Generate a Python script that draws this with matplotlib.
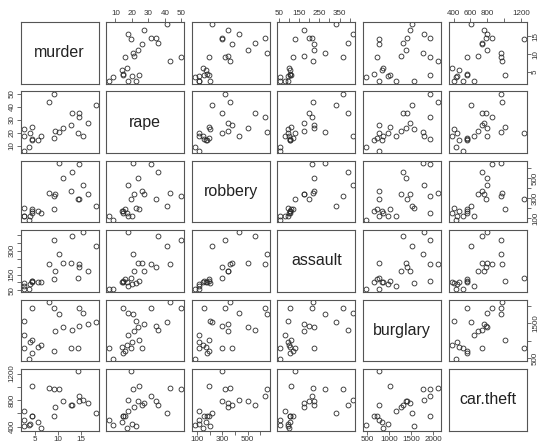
#!/usr/bin/env python3
# -*- coding: utf-8 -*-

import matplotlib
matplotlib.use("Agg")
import matplotlib.pyplot as plt
import numpy as np

# crime rates per 100,000 residents, one entry per city
murder = [18.3, 16.7, 15.5, 14.3, 14.6, 14.6, 13.0, 12.8, 11.2, 10.3, 9.4, 9.2,
          9.2, 8.1, 6.3, 5.6, 4.3, 4.4, 3.6, 4.0, 4.3, 2.5, 2.6, 2.6]
rape = [41.5, 27.6, 17.7, 19.5, 31.7, 34.8, 35.5, 26.0, 23.5, 20.5, 21.1, 15.8,
        50.0, 43.3, 17.3, 14.2, 14.8, 14.3, 8.8, 20.0, 24.4, 6.2, 17.4, 22.5]
robbery = [222, 347, 432, 297, 640, 297, 560, 373, 503, 653, 344, 196,
           324, 357, 148, 170, 154, 175, 82, 119, 191, 119, 119, 201]
assault = [331, 175, 415, 127, 215, 198, 390, 225, 225, 279, 175, 119,
           367, 219, 100, 102, 106, 104, 56, 92, 108, 56, 79, 96]
burglary = [1529, 1478, 1797, 784, 1933, 1411, 1306, 784, 1383, 1762, 1268, 718,
            1924, 2113, 870, 833, 1924, 661, 480, 975, 1022, 784, 1154, 1563]
car_theft = [603, 763, 802, 1234, 858, 783, 732, 732, 792, 968, 692, 557,
             968, 978, 376, 466, 561, 561, 427, 441, 1008, 507, 637, 402]

VAR_NAMES = ["murder", "rape", "robbery", "assault", "burglary", "car.theft"]

# tick positions and which of them get a label (horizontal axes / vertical axes)
TICKS = {
    "murder": [5, 10, 15],
    "rape": [10, 20, 30, 40, 50],
    "robbery": [100, 200, 300, 400, 500, 600],
    "assault": [50, 100, 150, 200, 250, 300, 350, 400],
    "burglary": [500, 1000, 1500, 2000],
    "car.theft": [400, 600, 800, 1000, 1200],
}
X_LABELED = {
    "murder": [5, 10, 15],
    "rape": [10, 20, 30, 40, 50],
    "robbery": [100, 300, 500],
    "assault": [50, 150, 250, 350],
    "burglary": [500, 1000, 1500, 2000],
    "car.theft": [400, 600, 800, 1200],
}
Y_LABELED = {
    "murder": [5, 10, 15],
    "rape": [10, 20, 30, 40, 50],
    "robbery": [100, 300, 500],
    "assault": [50, 150, 300],
    "burglary": [500, 1500],
    "car.theft": [400, 800, 1200],
}

FIG_W, FIG_H = 543, 445
BOX_COLOR = "#555555"
POINT_COLOR = "#2a2a2a"
TEXT_COLOR = "#333333"


def padded_range(values):
    v = np.asarray(values, dtype=float)
    pad = 0.04 * (v.max() - v.min())
    return v.min() - pad, v.max() + pad


def tick_text(ticks, labeled):
    return [str(t) if t in labeled else "" for t in ticks]


def panel_rect(row, col):
    left = 20.7 + 85.6 * col
    top = 22.0 + 69.4 * row
    w, h = 78.0, 61.5
    return [left / FIG_W, 1 - (top + h) / FIG_H, w / FIG_W, h / FIG_H]


def main() -> None:
    plt.rcParams["font.family"] = ["Liberation Sans", "DejaVu Sans"]
    data = {
        "murder": murder, "rape": rape, "robbery": robbery,
        "assault": assault, "burglary": burglary, "car.theft": car_theft,
    }
    lims = {name: padded_range(data[name]) for name in VAR_NAMES}
    n = len(VAR_NAMES)

    fig = plt.figure(figsize=(FIG_W / 100, FIG_H / 100), dpi=100)
    for r in range(n):
        for c in range(n):
            ax = fig.add_axes(panel_rect(r, c))
            xname, yname = VAR_NAMES[c], VAR_NAMES[r]
            ax.set_xlim(*lims[xname])
            ax.set_ylim(*lims[yname])
            for sp in ax.spines.values():
                sp.set_color(BOX_COLOR)
                sp.set_linewidth(0.8)

            if r == c:
                ax.text(0.5, 0.5, xname, transform=ax.transAxes,
                        ha="center", va="center", fontsize=11.5, color="#222222")
            else:
                ax.plot(data[xname], data[yname], "o", ms=3.5, mfc="none",
                        mec=POINT_COLOR, mew=0.6, ls="none")

            ax.tick_params(direction="out", length=2.6, width=0.6,
                           color=BOX_COLOR, labelsize=5.8, pad=1.2,
                           labelcolor=TEXT_COLOR)

            # x axis: top row on odd columns, bottom row on even columns
            show_top = r == 0 and c % 2 == 1
            show_bottom = r == n - 1 and c % 2 == 0
            if show_top or show_bottom:
                ax.set_xticks(TICKS[xname])
                ax.set_xticklabels(tick_text(TICKS[xname], X_LABELED[xname]))
                ax.xaxis.set_ticks_position("top" if show_top else "bottom")
            else:
                ax.set_xticks([])

            # y axis: left column on odd rows, right column on even rows
            show_left = c == 0 and r % 2 == 1
            show_right = c == n - 1 and r % 2 == 0
            if show_left or show_right:
                ax.set_yticks(TICKS[yname])
                ax.set_yticklabels(tick_text(TICKS[yname], Y_LABELED[yname]),
                                   rotation=90, va="center")
                ax.yaxis.set_ticks_position("left" if show_left else "right")
            else:
                ax.set_yticks([])

    fig.savefig("out.png", dpi=100)
    plt.close(fig)


if __name__ == "__main__":
    main()
